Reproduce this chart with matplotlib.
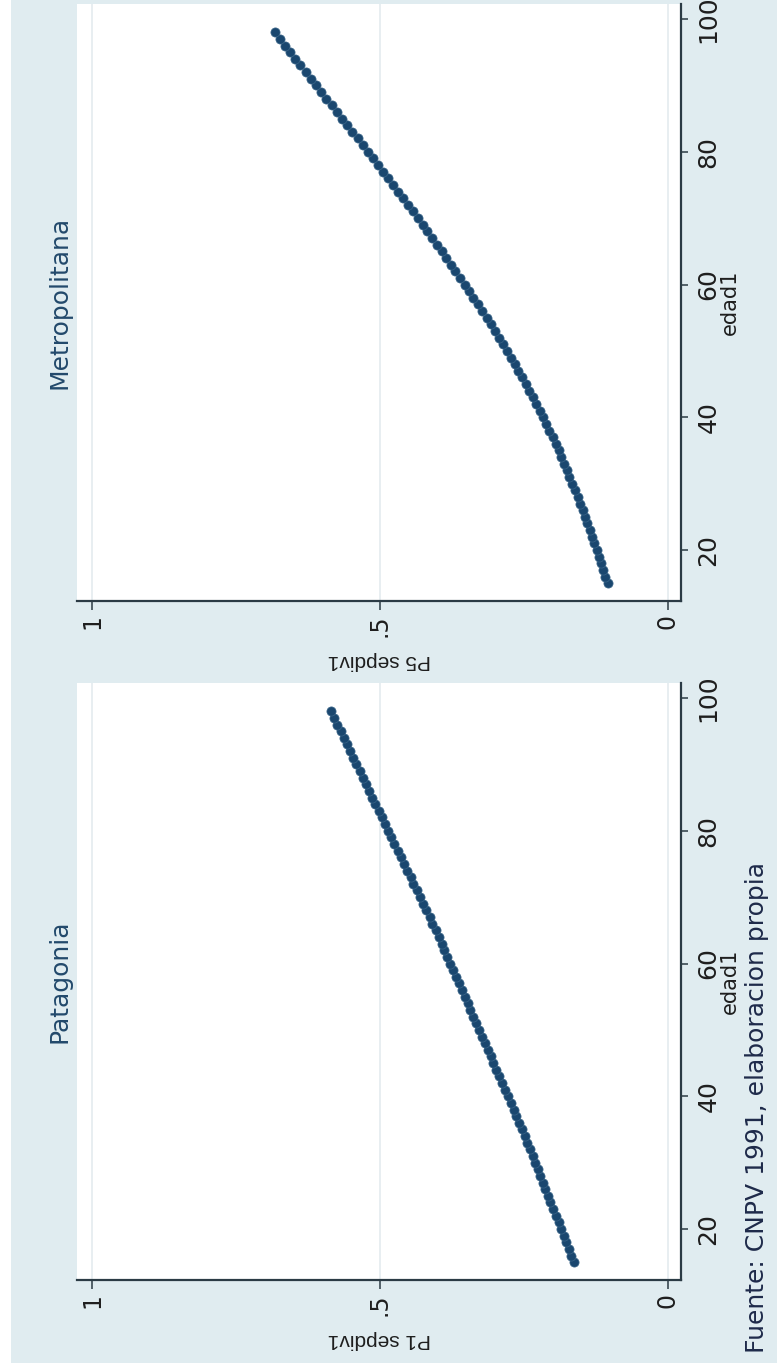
import matplotlib
matplotlib.use('Agg')
from matplotlib import pyplot as plt
from matplotlib.patches import Rectangle
from matplotlib.transforms import Bbox, TransformedBbox

# edades (eje x original) y proporciones estimadas del grafico
edad = list(range(15, 99))
p_metro = [0.105, 0.109, 0.112, 0.116, 0.120, 0.124, 0.128, 0.132, 0.136, 0.140,
           0.144, 0.148, 0.153, 0.157, 0.162, 0.166, 0.171, 0.175, 0.180, 0.185,
           0.190, 0.195, 0.200, 0.206, 0.211, 0.217, 0.223, 0.229, 0.235, 0.241,
           0.247, 0.253, 0.260, 0.266, 0.273, 0.280, 0.287, 0.294, 0.301, 0.308,
           0.315, 0.323, 0.330, 0.338, 0.345, 0.353, 0.361, 0.369, 0.377, 0.385,
           0.393, 0.401, 0.409, 0.418, 0.426, 0.434, 0.443, 0.451, 0.460, 0.468,
           0.477, 0.486, 0.494, 0.503, 0.512, 0.521, 0.530, 0.539, 0.548, 0.557,
           0.566, 0.575, 0.584, 0.593, 0.602, 0.611, 0.620, 0.629, 0.638, 0.647,
           0.656, 0.665, 0.674, 0.683]
p_patag = [0.163, 0.168, 0.172, 0.177, 0.181, 0.186, 0.190, 0.195, 0.199, 0.204,
           0.208, 0.213, 0.217, 0.222, 0.226, 0.231, 0.235, 0.240, 0.244, 0.249,
           0.253, 0.258, 0.263, 0.268, 0.273, 0.278, 0.283, 0.288, 0.293, 0.298,
           0.303, 0.308, 0.313, 0.318, 0.323, 0.328, 0.333, 0.338, 0.343, 0.348,
           0.353, 0.358, 0.363, 0.368, 0.373, 0.378, 0.383, 0.388, 0.393, 0.398,
           0.403, 0.409, 0.414, 0.420, 0.425, 0.431, 0.436, 0.442, 0.447, 0.453,
           0.458, 0.464, 0.469, 0.475, 0.480, 0.486, 0.491, 0.497, 0.502, 0.508,
           0.513, 0.519, 0.524, 0.530, 0.535, 0.541, 0.546, 0.552, 0.557, 0.563,
           0.568, 0.574, 0.579, 0.585]

panel_titles = ['Metropolitana', 'Patagonia']
y_titles = ['P5 sepdiv1', 'P1 sepdiv1']
x_title = 'edad1'
p_ticks = [0, 0.5, 1]
p_tick_labels = ['0', '.5', '1']
edad_ticks = [20, 40, 60, 80, 100]
nota = 'Fuente: CNPV 1991, elaboracion propia'

BG = '#e0ecf0'
NAVY = '#1a476f'
AXC = '#2b3b45'
TXT = '#1e1e1e'
W, H = 777, 1363


def box(x0, y0, x1, y1):
    # pixeles (origen arriba-izq) -> fraccion de figura
    return [x0 / W, 1 - y1 / H, (x1 - x0) / W, (y1 - y0) / H]


fig = plt.figure(figsize=(W / 100, H / 100), dpi=100, facecolor=BG)
fig.patches.append(Rectangle((0, 0), 11 / W, 1, transform=fig.transFigure,
                             facecolor='white', edgecolor='none'))

# region de cada sub-grafico (para recortar el "100" que se sale)
clips = [Bbox.from_extents(0, 1 - 680 / H, 1, 1),
         Bbox.from_extents(0, 0, 1, 1 - 680 / H)]

panels = [
    (box(77, 4, 681, 601), p_metro),
    (box(77, 683, 681, 1280), p_patag),
]

for i, (rect, vals) in enumerate(panels):
    ax = fig.add_axes(rect)
    ax.set_facecolor('white')
    # grafico girado: P en horizontal (invertido), edad en vertical
    ax.plot(vals, edad, linestyle='none', marker='o', markersize=6.6,
            markerfacecolor=NAVY, markeredgecolor='#3a6588', markeredgewidth=0.5,
            zorder=3)
    ax.set_xlim(1.026, -0.0226)
    ax.set_ylim(12.32, 102.26)

    for s in ['top', 'left']:
        ax.spines[s].set_visible(False)
    for s in ['bottom', 'right']:
        ax.spines[s].set_color(AXC)
        ax.spines[s].set_linewidth(1.6)

    ax.set_xticks(p_ticks)
    ax.set_xticklabels(p_tick_labels, rotation=90, family='DejaVu Sans', fontsize=17)
    ax.grid(axis='x', color='#e6edf0', linewidth=1.3, zorder=0)
    ax.tick_params(axis='x', direction='out', length=6.5, width=1.1, color=AXC,
                   pad=3, labelcolor=TXT)

    ax.yaxis.tick_right()
    ax.yaxis.set_label_position('right')
    ax.set_yticks(edad_ticks)
    ax.set_yticklabels([str(t) for t in edad_ticks], family='DejaVu Sans', fontsize=18)
    cb = TransformedBbox(clips[i], fig.transFigure)
    for lbl in ax.get_yticklabels():
        lbl.set_rotation(90)
        lbl.set_va('center')
        lbl.set_clip_box(cb)
        lbl.set_clip_on(True)
    ax.tick_params(axis='y', direction='out', length=5, width=1.1, color=AXC,
                   pad=6, labelcolor=TXT)

    ax.set_ylabel(x_title, rotation=90, family='DejaVu Sans', fontsize=15,
                  color=TXT, labelpad=0)
    ax.set_xlabel(y_titles[i], rotation=180, family='Liberation Sans', fontsize=15,
                  color=TXT, labelpad=10)

    cy = (rect[1] + rect[3] / 2)
    fig.text(60 / W, cy, panel_titles[i], rotation=90, ha='center', va='center',
             family='DejaVu Sans', fontsize=18, color='#22496b')

fig.text(757 / W, 1 - 1353 / H, nota, rotation=90, ha='center', va='bottom',
         family='DejaVu Sans', fontsize=18, color='#1e2a4a')

fig.savefig('out.png', dpi=100, facecolor=BG)
